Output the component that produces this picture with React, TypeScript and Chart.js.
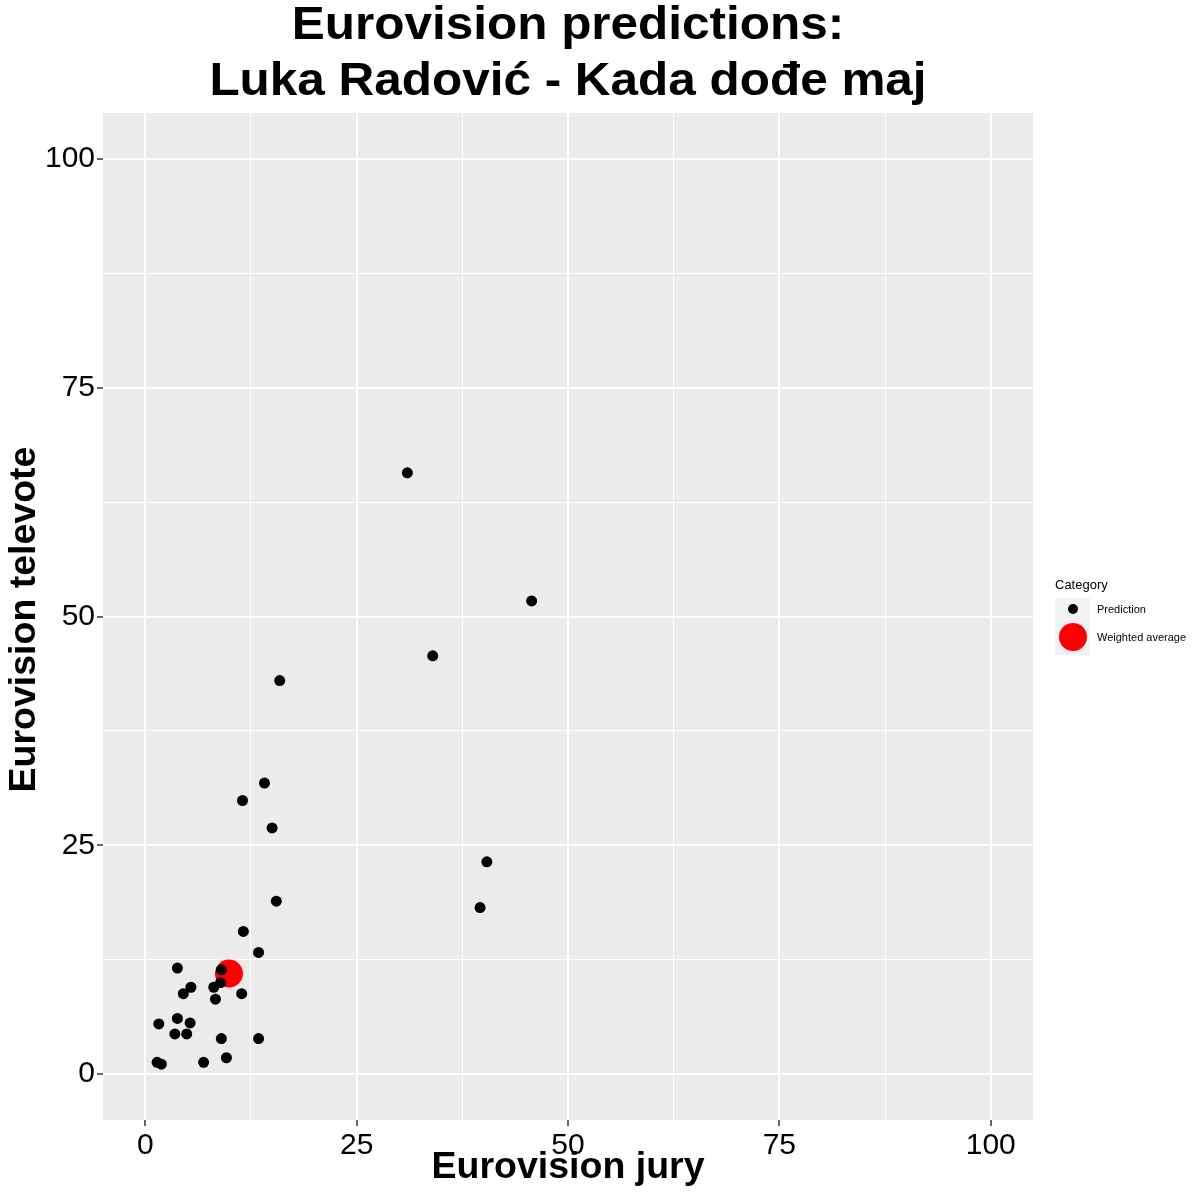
import React, { useEffect, useRef } from "react";
import { Chart, registerables } from "chart.js";

Chart.register(...registerables);

const titleLines = ["Eurovision predictions:", "Luka Radović - Kada dođe maj"];
const xAxisTitle = "Eurovision jury";
const yAxisTitle = "Eurovision televote";
const legendTitle = "Category";
const seriesNames = ["Prediction", "Weighted average"];

const predictionJury = [
  15.5, 11.6, 13.4, 3.8, 9.0, 8.9, 5.4, 8.1, 4.5, 11.4, 8.3, 1.6, 3.8, 5.3, 3.5, 4.9,
  9.0, 13.4, 9.6, 6.9, 1.4, 1.9, 31.0, 45.7, 34.0, 15.9, 14.1, 11.5, 15.0, 40.4, 39.6,
];
const predictionTelevote = [
  18.9, 15.6, 13.3, 11.6, 11.4, 10.0, 9.5, 9.5, 8.8, 8.8, 8.2, 5.5, 6.1, 5.6, 4.4, 4.4,
  3.9, 3.9, 1.8, 1.3, 1.3, 1.1, 65.7, 51.7, 45.7, 43.0, 31.8, 29.9, 26.9, 23.2, 18.2,
];
const weightedJury = [9.9];
const weightedTelevote = [11.0];

const axisMin = -5;
const axisMax = 105;
const gridValues = [0, 12.5, 25, 37.5, 50, 62.5, 75, 87.5, 100];
const majorTicks = [0, 25, 50, 75, 100];

const FONT = "'Liberation Sans', Arial, Helvetica, sans-serif";

export default function App() {
  const canvasRef = useRef<HTMLCanvasElement | null>(null);

  useEffect(() => {
    if (!canvasRef.current) return;

    const isMajor = (v: number) => majorTicks.includes(v);

    const drawStretched = (ctx: any, text: string, x: number, y: number, sx: number) => {
      ctx.save();
      ctx.translate(x, y);
      ctx.scale(sx, 1);
      ctx.fillText(text, 0, 0);
      ctx.restore();
    };

    const panelPlugin = {
      id: "panelBg",
      beforeDraw(chart: any) {
        const { ctx, chartArea } = chart;
        ctx.save();
        ctx.fillStyle = "#EBEBEB";
        ctx.fillRect(chartArea.left, chartArea.top, chartArea.right - chartArea.left, chartArea.bottom - chartArea.top);
        ctx.restore();
      },
      afterDraw(chart: any) {
        const { ctx, chartArea } = chart;
        const cx = (chartArea.left + chartArea.right) / 2;
        const cy = (chartArea.top + chartArea.bottom) / 2;
        ctx.save();
        ctx.fillStyle = "#000";
        ctx.textAlign = "center";
        ctx.textBaseline = "alphabetic";
        ctx.font = `bold 46px ${FONT}`;
        drawStretched(ctx, titleLines[0], cx, 39, 1.075);
        drawStretched(ctx, titleLines[1], cx, 95, 1.075);
        ctx.font = `bold 37.5px ${FONT}`;
        ctx.fillText(xAxisTitle, cx, 1178);
        ctx.translate(35, cy + 3);
        ctx.rotate(-Math.PI / 2);
        ctx.fillText(yAxisTitle, 0, 0);
        ctx.restore();
      },
    };

    const makeScale = (axis: "x" | "y") => ({
      type: "linear" as const,
      min: axisMin,
      max: axisMax,
      afterBuildTicks(scale: any) {
        scale.ticks = gridValues.map((v) => ({ value: v }));
      },
      afterFit(scale: any) {
        if (axis === "y") scale.width = 103;
        else scale.height = 80;
      },
      ticks: {
        autoSkip: false,
        maxRotation: 0,
        padding: 2,
        color: "#000",
        font: { family: FONT, size: 30 },
        callback: (v: any) => (isMajor(Number(v)) ? String(v) : ""),
      },
      grid: {
        color: "#FFFFFF",
        lineWidth: (c: any) => (c.tick && isMajor(c.tick.value) ? 2 : 1),
        tickLength: 6,
        tickColor: (c: any) => (c.tick && isMajor(c.tick.value) ? "#333333" : "rgba(0,0,0,0)"),
        tickWidth: 1.5,
      },
      border: { display: false },
      title: { display: false },
    });

    const chart = new Chart(canvasRef.current, {
      type: "scatter",
      data: {
        datasets: [
          {
            label: seriesNames[0],
            data: predictionJury.map((x, i) => ({ x, y: predictionTelevote[i] })),
            backgroundColor: "#000000",
            borderWidth: 0,
            pointRadius: 5.5,
            pointHoverRadius: 5.5,
            order: 1,
          },
          {
            label: seriesNames[1],
            data: weightedJury.map((x, i) => ({ x, y: weightedTelevote[i] })),
            backgroundColor: "#FF0000",
            borderWidth: 0,
            pointRadius: 14,
            pointHoverRadius: 14,
            order: 2,
          },
        ],
      },
      options: {
        animation: false,
        responsive: false,
        maintainAspectRatio: false,
        devicePixelRatio: 1,
        layout: { padding: { top: 113, right: 167, bottom: 0, left: 0 } },
        plugins: {
          legend: { display: false },
          title: { display: false },
          tooltip: { enabled: false },
        },
        events: [],
        scales: {
          x: makeScale("x"),
          y: makeScale("y"),
        },
      },
      plugins: [panelPlugin],
    });

    return () => chart.destroy();
  }, []);

  return (
    <div style={{ position: "absolute", left: 0, top: 0, width: 1200, height: 1200, background: "#fff", fontFamily: FONT }}>
      <canvas ref={canvasRef} width={1200} height={1200} style={{ width: 1200, height: 1200, display: "block" }} />
      <div style={{ position: "absolute", left: 1055, top: 577, fontSize: 13, lineHeight: "16px", color: "#000" }}>
        {legendTitle}
      </div>
      <div style={{ position: "absolute", left: 1055, top: 598, width: 35, height: 57, background: "#F2F2F2" }} />
      <div style={{ position: "absolute", left: 1068, top: 604, width: 10, height: 10, borderRadius: "50%", background: "#000" }} />
      <div style={{ position: "absolute", left: 1059, top: 623, width: 28, height: 28, borderRadius: "50%", background: "#FF0000" }} />
      <div style={{ position: "absolute", left: 1097, top: 602, fontSize: 11, lineHeight: "14px", color: "#000", whiteSpace: "nowrap" }}>
        {seriesNames[0]}
      </div>
      <div style={{ position: "absolute", left: 1097, top: 630, fontSize: 11, lineHeight: "14px", color: "#000", whiteSpace: "nowrap" }}>
        {seriesNames[1]}
      </div>
    </div>
  );
}
